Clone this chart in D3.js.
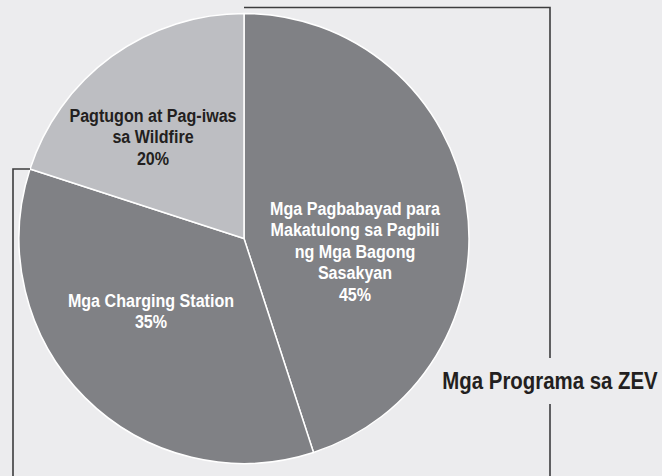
<!DOCTYPE html>
<html>
<head>
<meta charset="utf-8">
<script src="https://cdn.jsdelivr.net/npm/d3@7"></script>
<style>
  html, body { margin: 0; padding: 0; background: #ececee; }
  svg { display: block; }
  text { font-family: "Liberation Sans", Arial, sans-serif; font-weight: bold; }
</style>
</head>
<body>
<svg id="chart"></svg>
<script>
// Chart data
const categories = [
  "Mga Pagbabayad para Makatulong sa Pagbili ng Mga Bagong Sasakyan",
  "Mga Charging Station",
  "Pagtugon at Pag-iwas sa Wildfire",
];
const shares = [45, 35, 20];
const labelLines = [
  ["Mga Pagbabayad para", "Makatulong sa Pagbili", "ng Mga Bagong", "Sasakyan"],
  ["Mga Charging Station"],
  ["Pagtugon at Pag-iwas", "sa Wildfire"],
];
const groupTitle = "Mga Programa sa ZEV";

const width = 662;
const height = 476;
const cx = 244;
const cy = 238.5;
const radius = 225;
const lineHeight = 21.5;
const condense = 0.87; // fake a condensed face, none installed

const colors = ["#808185", "#808185", "#bdbec2"];
const textColors = ["#ffffff", "#ffffff", "#231f20"];
// first-line anchor of each label, relative to the pie centre
const labelAnchor = [
  [111, -23.5],
  [-93, 68.5],
  [-91, -116.5],
];

const svg = d3
  .select("#chart")
  .attr("width", width)
  .attr("height", height);

const pie = d3.pie().sort(null).value((d) => d);
const arcs = pie(shares);
const arc = d3.arc().innerRadius(0).outerRadius(radius);

const g = svg.append("g").attr("transform", `translate(${cx},${cy})`);

g.selectAll("path")
  .data(arcs)
  .enter()
  .append("path")
  .attr("d", arc)
  .attr("fill", (d, i) => colors[i])
  .attr("stroke", "#ffffff")
  .attr("stroke-width", 1.5)
  .attr("stroke-linejoin", "round");

// Slice labels
arcs.forEach((d, i) => {
  const lines = labelLines[i].concat([`${shares[i]}%`]);
  const t = g
    .append("text")
    .attr(
      "transform",
      `translate(${labelAnchor[i][0]},${labelAnchor[i][1]}) scale(${condense},1)`
    )
    .attr("text-anchor", "middle")
    .attr("font-size", 18.5)
    .attr("fill", textColors[i]);
  lines.forEach((line, j) => {
    t.append("tspan")
      .attr("x", 0)
      .attr("y", j * lineHeight)
      .text(line);
  });
});

// Bracket lines
const edgeAt = (a) => [Math.sin(a) * radius, -Math.cos(a) * radius];
const leftPt = edgeAt(arcs[2].startAngle);

const bracket = svg
  .append("g")
  .attr("fill", "none")
  .attr("stroke", "#3c3c3e")
  .attr("stroke-width", 1.6);

bracket.append("path").attr("d", `M${cx},7.5 H550 V358`);
bracket.append("path").attr("d", `M550,404 V${height}`);
bracket
  .append("path")
  .attr("d", `M${cx + leftPt[0]},${cy + leftPt[1]} H13 V${height}`);

svg
  .append("text")
  .attr("transform", "translate(550,389) scale(0.85,1)")
  .attr("text-anchor", "middle")
  .attr("font-size", 24)
  .attr("fill", "#231f20")
  .text(groupTitle);
</script>
</body>
</html>
